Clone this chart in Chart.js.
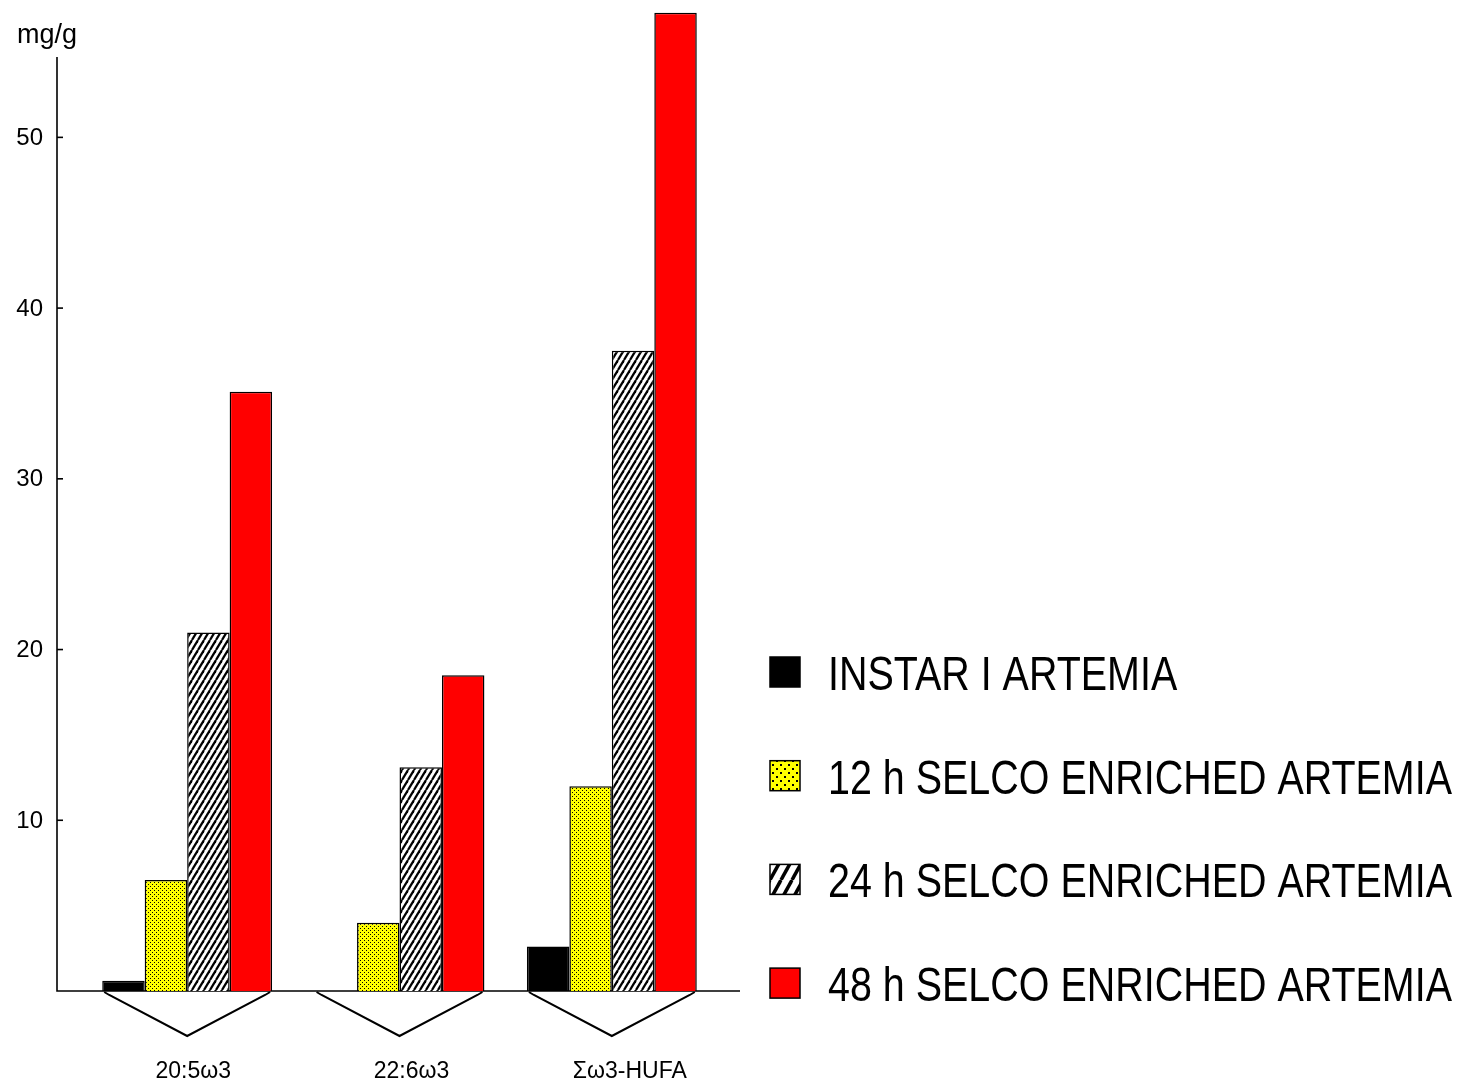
<!DOCTYPE html>
<html>
<head>
<meta charset="utf-8">
<script src="https://cdn.jsdelivr.net/npm/chart.js@4.4.1/dist/chart.umd.min.js"></script>
<style>
  html, body { margin: 0; padding: 0; background: #fff; }
  #wrap { width: 1466px; height: 1081px; }
</style>
</head>
<body>
<div id="wrap"><canvas id="chart" width="1466" height="1081"></canvas></div>
<script>
// data (mg/g)
const categories = ["20:5\u03c93", "22:6\u03c93", "\u03a3\u03c93-HUFA"];
const seriesNames = [
    "INSTAR I ARTEMIA",
    "12 h SELCO ENRICHED ARTEMIA",
    "24 h SELCO ENRICHED ARTEMIA",
    "48 h SELCO ENRICHED ARTEMIA"
];
const instar = [0.6, null, 2.6];
const selco12 = [6.5, 4.0, 12.0];
const selco24 = [21.0, 13.1, 37.5];
const selco48 = [35.1, 18.5, 57.3];
const yTicks = [10, 20, 30, 40, 50];
const yUnit = "mg/g";

const FONT = '"Liberation Sans", Arial, sans-serif';

function dotPattern(size, dot) {
    const c = document.createElement("canvas");
    c.width = size; c.height = size;
    const g = c.getContext("2d");
    g.fillStyle = "#ffff00";
    g.fillRect(0, 0, size, size);
    g.fillStyle = "#000";
    g.fillRect(0, 0, dot, dot);
    g.fillRect(size / 2, size / 2, dot, dot);
    return c;
}

function hatchPattern(w, h, lw) {
    const c = document.createElement("canvas");
    c.width = w; c.height = h;
    const g = c.getContext("2d");
    g.fillStyle = "#fff";
    g.fillRect(0, 0, w, h);
    g.strokeStyle = "#000";
    g.lineWidth = lw;
    for (let k = -1; k <= 1; k++) {
        g.beginPath();
        g.moveTo(k * w, h);
        g.lineTo(k * w + w, 0);
        g.stroke();
    }
    return c;
}

const ctx0 = document.getElementById("chart").getContext("2d");
const yellowFill = ctx0.createPattern(dotPattern(4, 1), "repeat");
const hatchFill = ctx0.createPattern(hatchPattern(6, 10, 2.2), "repeat");
const yellowLegend = ctx0.createPattern(dotPattern(8, 2), "repeat");
const hatchLegend = ctx0.createPattern(hatchPattern(11, 20, 3.5), "repeat");

const fills = ["#000000", yellowFill, hatchFill, "#ff0000"];
const legendFills = ["#000000", yellowLegend, hatchLegend, "#ff0000"];

// axes, chevrons, labels and legend drawn by hand
const paperPlugin = {
    id: "paper",
    beforeDatasetsDraw(chart) {
        const ctx = chart.ctx;
        const x = chart.scales.x, y = chart.scales.y;
        const zero = y.getPixelForValue(0);
        const axisX = chart.chartArea.left - 24;
        ctx.save();
        ctx.strokeStyle = "#000";
        ctx.lineWidth = 1.6;
        ctx.beginPath();
        ctx.moveTo(axisX, y.getPixelForValue(54.7));
        ctx.lineTo(axisX, zero);
        ctx.lineTo(chart.chartArea.right + 22, zero);
        ctx.stroke();

        ctx.font = "24px " + FONT;
        ctx.fillStyle = "#000";
        ctx.textAlign = "right";
        ctx.textBaseline = "middle";
        yTicks.forEach(v => {
            const py = y.getPixelForValue(v);
            ctx.beginPath();
            ctx.moveTo(axisX, py);
            ctx.lineTo(axisX + 6, py);
            ctx.stroke();
            ctx.fillText(String(v), axisX - 14, py + 1);
        });
        ctx.textAlign = "left";
        ctx.textBaseline = "alphabetic";
        ctx.font = "27px " + FONT;
        ctx.fillText(yUnit, 17, 43);

        const half = (x.width / categories.length) * 0.4;
        ctx.lineWidth = 2;
        ctx.font = "23px " + FONT;
        ctx.textAlign = "center";
        categories.forEach((c, i) => {
            const cx = x.getPixelForValue(i);
            ctx.beginPath();
            ctx.moveTo(cx - half + 2, zero + 1);
            ctx.lineTo(cx - half + 7, zero + 4);
            ctx.lineTo(cx, zero + 45);
            ctx.lineTo(cx + half - 7, zero + 4);
            ctx.lineTo(cx + half - 2, zero + 1);
            ctx.stroke();
            ctx.fillText(c, cx + 6 + i * 6, zero + 87);
        });
        ctx.restore();
    },
    afterDraw(chart) {
        const ctx = chart.ctx;
        ctx.save();
        ctx.font = "49px " + FONT;
        const widest = Math.max(...seriesNames.map(s => ctx.measureText(s).width));
        const squeeze = 624 / widest;
        seriesNames.forEach((name, i) => {
            const cy = 672 + i * 103.7;
            ctx.fillStyle = legendFills[i];
            ctx.fillRect(770, cy - 15, 30, 30);
            ctx.strokeStyle = "#000";
            ctx.lineWidth = 1.5;
            ctx.strokeRect(770, cy - 15, 30, 30);
            ctx.fillStyle = "#000";
            ctx.save();
            ctx.translate(828, cy + 18);
            ctx.scale(squeeze, 1);
            ctx.fillText(name, 0, 0);
            ctx.restore();
        });
        ctx.restore();
    }
};

const seriesValues = [instar, selco12, selco24, selco48];

new Chart(document.getElementById("chart"), {
    type: "bar",
    data: {
        labels: categories,
        datasets: seriesValues.map((vals, i) => ({
            label: seriesNames[i],
            data: vals,
            backgroundColor: fills[i],
            borderColor: "#000",
            borderWidth: 1.5,
            clip: false
        }))
    },
    options: {
        responsive: false,
        animation: false,
        events: [],
        layout: { padding: { left: 81, right: 748, top: 52, bottom: 90 } },
        datasets: { bar: { categoryPercentage: 0.8, barPercentage: 1.0 } },
        scales: {
            x: { display: false },
            y: { display: false, min: 0, max: 55 }
        },
        plugins: {
            legend: { display: false },
            tooltip: { enabled: false }
        }
    },
    plugins: [paperPlugin]
});
</script>
</body>
</html>
